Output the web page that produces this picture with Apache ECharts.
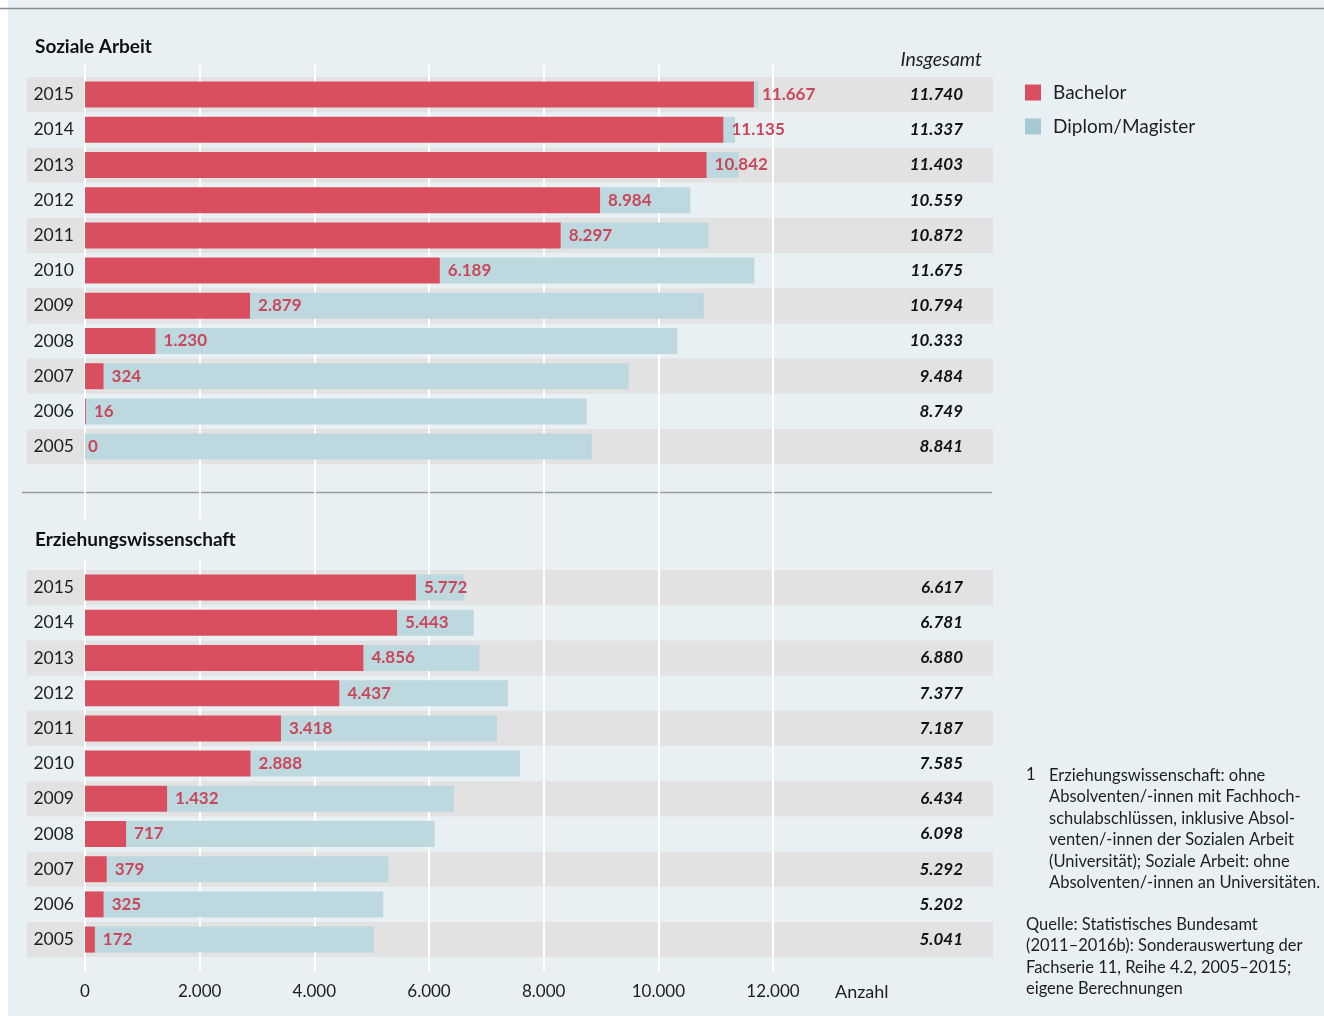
<!DOCTYPE html>
<html><head><meta charset="utf-8">
<script src="https://cdn.jsdelivr.net/npm/echarts@6/dist/echarts.min.js"></script>
<style>html,body{margin:0;padding:0;background:#fff}#c{width:1324px;height:1016px}</style>
</head><body><div id="c"></div>
<script>
const years = ['2015','2014','2013','2012','2011','2010','2009','2008','2007','2006','2005'];
// Soziale Arbeit
const saBachelor = [11667, 11135, 10842, 8984, 8297, 6189, 2879, 1230, 324, 16, 0];
const saDiplom   = [73, 202, 561, 1575, 2575, 5486, 7915, 9103, 9160, 8733, 8841];
const saTotal    = [11740, 11337, 11403, 10559, 10872, 11675, 10794, 10333, 9484, 8749, 8841];
// Erziehungswissenschaft
const ewBachelor = [5772, 5443, 4856, 4437, 3418, 2888, 1432, 717, 379, 325, 172];
const ewDiplom   = [845, 1338, 2024, 2940, 3769, 4697, 5002, 5381, 4913, 4877, 4869];
const ewTotal    = [6617, 6781, 6880, 7377, 7187, 7585, 6434, 6098, 5292, 5202, 5041];
const xMin = 0, xMax = 12000, xStep = 2000;

const FONT = 'Lato, "Noto Sans", sans-serif';
const RED = '#da4f60', BLUE = '#bed8df', LABELRED = '#c9475a', TXT = '#1e1e1e';
const fmt = v => String(v).replace(/\B(?=(\d{3})+(?!\d))/g, '.');

const L = 85, W = 688;
const BL = 27, BW = 966;
const rowsH = 387.2;
const topY = 77, botY = 570;

function bandY(grid){ return {type:'category', gridIndex:grid, data:years, inverse:true, z:-1,
  axisLine:{show:false}, axisTick:{show:false}, axisLabel:{show:false}, splitLine:{show:false},
  splitArea:{show:true, areaStyle:{color:['#e2e2e2','rgba(0,0,0,0)']}}}; }
function hiddenX(grid){ return {type:'value', gridIndex:grid, min:xMin, max:xMax, interval:xStep, show:false}; }
function yearsY(grid){ return {type:'category', gridIndex:grid, data:years, inverse:true,
  axisLine:{show:false}, axisTick:{show:false}, splitLine:{show:false},
  axisLabel:{color:TXT, fontSize:17.5, fontFamily:FONT, margin:11, padding:[4,0,0,0]}}; }
function totalsY(grid, totals){ return {type:'category', gridIndex:grid, data:years, inverse:true, position:'right',
  axisLine:{show:false}, axisTick:{show:false}, splitLine:{show:false},
  axisLabel:{color:'#111', fontSize:17, fontFamily:FONT, fontStyle:'italic', fontWeight:'bold', align:'right', margin:190,
    padding:[4,0,0,0], formatter:(v, i) => fmt(totals[i])}}; }
function barSeries(name, data, ax, ay, stack, color, withLabel){
  return {type:'bar', name, xAxisIndex:ax, yAxisIndex:ay, stack, barWidth:26, z: withLabel?3:2,
    data: withLabel ? data.map(v => v === 0 ? {value:v, label:{distance:3}} : v) : data,
    itemStyle:{color}, emphasis:{disabled:true}, animation:false,
    label: withLabel ? {show:true, position:'right', distance:8, color:LABELRED, fontSize:17, fontWeight:'bold', fontFamily:FONT,
      padding:[4,0,0,0], formatter:p => fmt(p.value)} : {show:false}};
}

const chart = echarts.init(document.getElementById('c'), null, {renderer:'canvas'});
chart.setOption({
  backgroundColor:'#e8f0f4',
  animation:false,
  textStyle:{fontFamily:FONT},
  title:[
    {text:'Soziale Arbeit', left:28, top:27, padding:[10,7,10,7], textStyle:{fontSize:19, fontWeight:'bold', color:'#111', fontFamily:FONT}},
    {text:'Erziehungswissenschaft', left:28, top:519, padding:[11,7,11,7], backgroundColor:'#e8f0f4',
      textStyle:{fontSize:19, fontWeight:'bold', color:'#111', fontFamily:FONT}},
    {text:'Insgesamt', right:342, top:50, padding:0, textStyle:{fontSize:19.5, fontWeight:'normal', fontStyle:'italic', color:'#222', fontFamily:FONT}}
  ],
  legend:{orient:'vertical', left:1025, top:83, padding:0, itemWidth:16, itemHeight:16, itemGap:15, icon:'rect',
    textStyle:{fontSize:19, color:TXT, fontFamily:FONT, padding:[0,0,0,7]},
    data:[{name:'Bachelor', itemStyle:{color:RED}}, {name:'Diplom/Magister', itemStyle:{color:'#a6c9d3'}}]},
  grid:[
    {left:L, top:65, width:W, height:906},
    {left:BL, top:topY, width:BW, height:rowsH},
    {left:BL, top:botY, width:BW, height:rowsH},
    {left:L, top:topY, width:W, height:rowsH},
    {left:L, top:botY, width:W, height:rowsH}
  ],
  xAxis:[
    {type:'value', gridIndex:0, min:xMin, max:xMax, interval:xStep, position:'bottom',
      axisLine:{show:false}, axisTick:{show:false},
      splitLine:{show:true, lineStyle:{color:'#ffffff', width:2}},
      axisLabel:{color:TXT, fontSize:17, fontFamily:FONT, margin:12, formatter:v => fmt(v)},
      name:'Anzahl', nameLocation:'end', nameGap:62, nameTextStyle:{color:TXT, fontSize:18, fontFamily:FONT, verticalAlign:'top', padding:[12,0,0,0]}},
    {type:'value', gridIndex:1, show:false, min:0, max:1},
    {type:'value', gridIndex:2, show:false, min:0, max:1},
    hiddenX(3),
    hiddenX(4)
  ],
  yAxis:[
    {type:'value', gridIndex:0, show:false, min:0, max:1},
    bandY(1),
    bandY(2),
    yearsY(3),
    totalsY(3, saTotal),
    yearsY(4),
    totalsY(4, ewTotal)
  ],
  series:[
    barSeries('Bachelor', saBachelor, 3, 3, 'sa', RED, true),
    barSeries('Diplom/Magister', saDiplom, 3, 3, 'sa', BLUE, false),
    barSeries('Bachelor', ewBachelor, 4, 5, 'ew', RED, true),
    barSeries('Diplom/Magister', ewDiplom, 4, 5, 'ew', BLUE, false)
  ],
  graphic:[
    {type:'rect', left:0, top:0, shape:{width:8, height:1016}, style:{fill:'#ffffff'}, z:100},
    {type:'line', shape:{x1:0, y1:8.5, x2:1324, y2:8.5}, style:{stroke:'#8a8a8a', lineWidth:1.5}, z:100},
    {type:'line', shape:{x1:22, y1:492.5, x2:992, y2:492.5}, style:{stroke:'#9a9a9a', lineWidth:1.5}, z:-2},
    {type:'text', left:1026, top:766, z:100, style:{text:'1', fontSize:16.5, fontFamily:FONT, fill:TXT}},
    {type:'text', left:1049, top:765, z:100, style:{text:'Erziehungswissenschaft: ohne\nAbsolventen/-innen mit Fachhoch-\nschulabschlüssen, inklusive Absol-\nventen/-innen der Sozialen Arbeit\n(Universität); Soziale Arbeit: ohne\nAbsolventen/-innen an Universitäten.', fontSize:16.5, lineHeight:21.4, fontFamily:FONT, fill:TXT}},
    {type:'text', left:1026, top:914, z:100, style:{text:'Quelle: Statistisches Bundesamt\n(2011–2016b): Sonderauswertung der\nFachserie 11, Reihe 4.2, 2005–2015;\neigene Berechnungen', fontSize:16.5, lineHeight:21.4, fontFamily:FONT, fill:TXT}}
  ]
});
</script></body></html>
